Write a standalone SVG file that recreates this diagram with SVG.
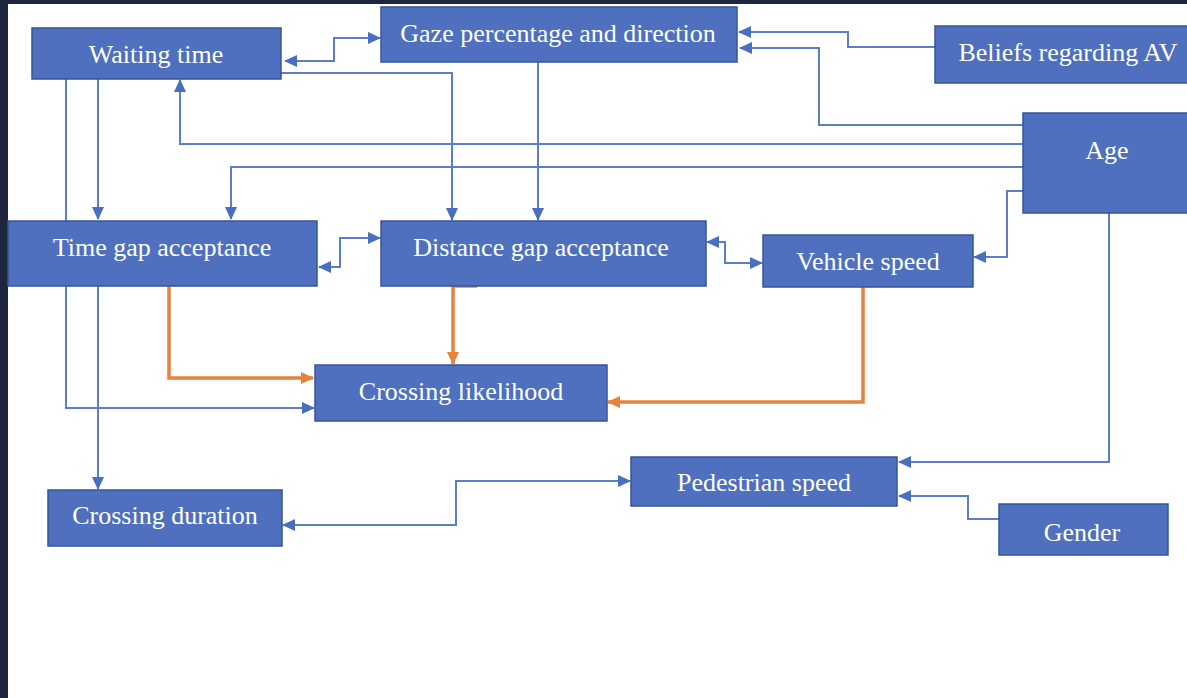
<svg xmlns="http://www.w3.org/2000/svg" width="1187" height="698" viewBox="0 0 1187 698">
<style>
.nd rect{fill:#4e70be;stroke:#35569a;stroke-width:1.5}
.nd text{font-family:"Liberation Serif","Times New Roman",serif;font-size:26px;fill:#ffffff;text-anchor:middle}
.c{fill:none;stroke:#5a7ec8;stroke-width:2}
.o{fill:none;stroke:#e8823a;stroke-width:3.5}
</style>
<defs>
<marker id="ab" markerWidth="14" markerHeight="14" refX="12" refY="7" orient="auto-start-reverse" markerUnits="userSpaceOnUse"><path d="M0,1 L13,7 L0,13 z" fill="#4a6fc0"/></marker>
<marker id="ao" markerWidth="14" markerHeight="14" refX="12" refY="7" orient="auto" markerUnits="userSpaceOnUse"><path d="M0,1 L13,7 L0,13 z" fill="#e8823a"/></marker>
</defs>
<rect x="0" y="0" width="1187" height="698" fill="#1e2640"/>
<rect x="8" y="4" width="1179" height="694" fill="#ffffff"/>
<g id="connectors">
<path class="c" d="M285,61 H334 V38 H380" marker-start="url(#ab)" marker-end="url(#ab)"/>
<path class="c" d="M281,73 H452 V220" marker-end="url(#ab)"/>
<path class="c" d="M538,62 V220" marker-end="url(#ab)"/>
<path class="c" d="M935,47 H848 V32 H739" marker-end="url(#ab)"/>
<path class="c" d="M1023,125 H819 V48 H740" marker-end="url(#ab)"/>
<path class="c" d="M1023,144 H180 V80" marker-end="url(#ab)"/>
<path class="c" d="M1023,167 H231 V219" marker-end="url(#ab)"/>
<path class="c" d="M1023,191 H1007 V257 H974" marker-end="url(#ab)"/>
<path class="c" d="M1109,213 V462 H899" marker-end="url(#ab)"/>
<path class="c" d="M98,79 V219" marker-end="url(#ab)"/>
<path class="c" d="M66,79 V408 H314" marker-end="url(#ab)"/>
<path class="c" d="M98,286 V489" marker-end="url(#ab)"/>
<path class="c" d="M319,267 H340 V238 H380" marker-start="url(#ab)" marker-end="url(#ab)"/>
<path class="c" d="M707,242 H725 V263 H762" marker-start="url(#ab)" marker-end="url(#ab)"/>
<path class="c" d="M283,525 H456 V481 H630" marker-start="url(#ab)" marker-end="url(#ab)"/>
<path class="c" d="M999,519 H968 V496 H899" marker-end="url(#ab)"/>
<path class="o" d="M169,284 V378 H313" marker-end="url(#ao)"/>
<path class="o" d="M477,286 H453 V364" marker-end="url(#ao)"/>
<path class="o" d="M863,287 V402 H608" marker-end="url(#ao)"/>
</g>
<g id="waiting-time" class="nd"><rect x="32" y="28" width="249" height="51"/><text x="156" y="63">Waiting time</text></g>
<g id="gaze" class="nd"><rect x="381" y="7" width="356" height="55"/><text x="558" y="42">Gaze percentage and direction</text></g>
<g id="beliefs" class="nd"><rect x="935" y="26" width="265" height="57"/><text x="1068" y="61">Beliefs regarding AV</text></g>
<g id="age" class="nd"><rect x="1023" y="113" width="170" height="100"/><text x="1107" y="159">Age</text></g>
<g id="time-gap" class="nd"><rect x="8" y="221" width="309" height="65"/><text x="162" y="256">Time gap acceptance</text></g>
<g id="distance-gap" class="nd"><rect x="381" y="221" width="325" height="65"/><text x="541" y="256">Distance gap acceptance</text></g>
<g id="vehicle-speed" class="nd"><rect x="763" y="235" width="210" height="52"/><text x="868" y="270">Vehicle speed</text></g>
<g id="crossing-likelihood" class="nd"><rect x="315" y="365" width="292" height="56"/><text x="461" y="400">Crossing likelihood</text></g>
<g id="crossing-duration" class="nd"><rect x="48" y="490" width="234" height="56"/><text x="165" y="524">Crossing duration</text></g>
<g id="pedestrian-speed" class="nd"><rect x="631" y="457" width="266" height="49"/><text x="764" y="491">Pedestrian speed</text></g>
<g id="gender" class="nd"><rect x="999" y="504" width="169" height="51"/><text x="1082" y="541">Gender</text></g>
</svg>
